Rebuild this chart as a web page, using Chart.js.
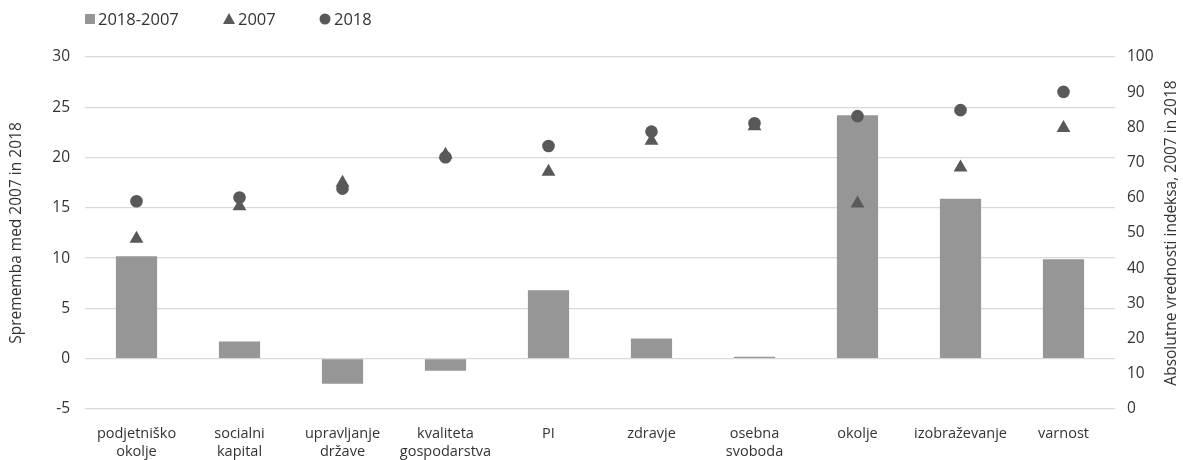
<!DOCTYPE html>
<html>
<head>
<meta charset="utf-8">
<script src="https://cdn.jsdelivr.net/npm/chart.js@4"></script>
<style>
html,body{margin:0;padding:0;background:#fff;}
#wrap{width:1183px;height:460px;position:relative;}
</style>
</head>
<body>
<div id="wrap"><canvas id="c" width="1183" height="460"></canvas></div>
<script>
const categories = [["podjetniško","okolje"],["socialni","kapital"],["upravljanje","države"],["kvaliteta","gospodarstva"],"PI","zdravje",["osebna","svoboda"],"okolje","izobraževanje","varnost"];
const diff = [10.2, 1.7, -2.5, -1.2, 6.8, 2.0, 0.2, 24.2, 15.9, 9.9];
const v2007 = [48.4, 57.6, 64.3, 72.2, 67.4, 76.2, 80.3, 58.4, 68.6, 79.8];
const v2018 = [59.0, 60.1, 62.6, 71.5, 74.7, 78.8, 81.2, 83.2, 84.9, 90.1];
const leftTicks = [-5, 0, 5, 10, 15, 20, 25, 30];
const rightTicks = [0, 10, 20, 30, 40, 50, 60, 70, 80, 90, 100];
const seriesNames = ["2018-2007", "2007", "2018"];
const leftTitle = 'Sprememba med 2007 in 2018';
const rightTitle = 'Absolutne vrednosti indeksa, 2007 in 2018';

const FONT = "'Open Sans', sans-serif";
const TXT = '#333333';
const BAR = '#969696';
const MARK = '#595959';
const GRID = '#d9d9d9';

const extrasPlugin = {
  id: 'extras',
  afterDraw(chart) {
    const ctx = chart.ctx;
    const y = 19;
    const items = [
      {x: 85, style: 'rect', color: BAR, tx: 98},
      {x: 223, style: 'triangle', color: MARK, tx: 238},
      {x: 320, style: 'circle', color: MARK, tx: 334}
    ];
    ctx.save();
    ctx.font = "16.5px " + FONT;
    ctx.textBaseline = 'middle';
    items.forEach((it, i) => {
      ctx.fillStyle = it.color;
      ctx.beginPath();
      if (it.style === 'rect') {
        ctx.rect(it.x, y - 5, 10, 10);
      } else if (it.style === 'triangle') {
        ctx.moveTo(it.x + 6, y - 6);
        ctx.lineTo(it.x + 12, y + 5);
        ctx.lineTo(it.x, y + 5);
        ctx.closePath();
      } else {
        ctx.arc(it.x + 5, y, 5.5, 0, Math.PI * 2);
      }
      ctx.fill();
      ctx.fillStyle = TXT;
      ctx.fillText(chart.data.datasets[i].label, it.tx, y + 1);
    });
    // right axis title, reading bottom-to-top
    const ca = chart.chartArea;
    ctx.font = "15.5px " + FONT;
    ctx.textAlign = 'center';
    ctx.translate(chart.scales.y2.right - 11, (ca.top + ca.bottom) / 2);
    ctx.rotate(-Math.PI / 2);
    ctx.fillText(rightTitle, 0, 0);
    ctx.restore();
  }
};

new Chart(document.getElementById('c'), {
  type: 'bar',
  data: {
    labels: categories,
    datasets: [
      {label: seriesNames[0], data: diff, backgroundColor: BAR, yAxisID: 'y', order: 3,
       barPercentage: 0.8, categoryPercentage: 0.5},
      {label: seriesNames[1], type: 'line', data: v2007, yAxisID: 'y2', showLine: false, order: 2,
       pointStyle: 'triangle', pointRadius: 8, pointHoverRadius: 8, backgroundColor: MARK, borderColor: MARK, borderWidth: 0},
      {label: seriesNames[2], type: 'line', data: v2018, yAxisID: 'y2', showLine: false, order: 1,
       pointStyle: 'circle', pointRadius: 6.3, pointHoverRadius: 6.3, backgroundColor: MARK, borderColor: MARK, borderWidth: 0}
    ]
  },
  options: {
    responsive: false,
    animation: false,
    devicePixelRatio: 1,
    layout: {padding: {top: 57, left: 0, right: 0, bottom: 0}},
    plugins: {legend: {display: false}, tooltip: {enabled: false}},
    scales: {
      x: {
        grid: {display: false, drawTicks: false},
        border: {display: false},
        ticks: {color: TXT, font: {family: FONT, size: 14.5, lineHeight: 1.25}, padding: 16, maxRotation: 0, autoSkip: false},
        afterFit(s) { s.height = 51; }
      },
      y: {
        position: 'left',
        min: -5, max: 30,
        afterBuildTicks(s) { s.ticks = leftTicks.map(v => ({value: v})); },
        grid: {color: GRID, lineWidth: 1.3, drawTicks: false},
        border: {display: false},
        ticks: {color: TXT, font: {family: FONT, size: 15.5}, padding: 15},
        title: {display: true, text: leftTitle, color: TXT, font: {family: FONT, size: 15.5}, padding: {top: 7, bottom: 4}},
        afterFit(s) { s.width = 85; }
      },
      y2: {
        position: 'right',
        min: 0, max: 100,
        afterBuildTicks(s) { s.ticks = rightTicks.map(v => ({value: v})); },
        grid: {display: false, drawTicks: false},
        border: {display: false},
        ticks: {color: TXT, font: {family: FONT, size: 15.5}, padding: 12},
        title: {display: false},
        afterFit(s) { s.width = 68; }
      }
    }
  },
  plugins: [extrasPlugin]
});
</script>
</body>
</html>
